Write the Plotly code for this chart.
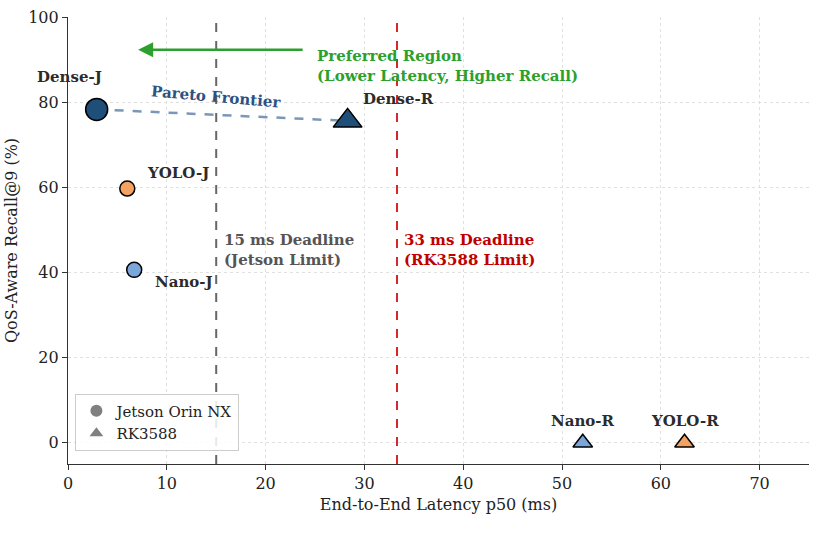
import plotly.graph_objects as go

names = ["Dense-J", "YOLO-J", "Nano-J", "Dense-R", "Nano-R", "YOLO-R"]
latency = [2.9, 6.0, 6.7, 28.3, 52.1, 62.4]
recall = [78.3, 59.7, 40.6, 75.6, 0.0, 0.0]
platform = ["J", "J", "J", "R", "R", "R"]
colors = ["#1f4e79", "#f4a261", "#7aa6da", "#1f4e79", "#7aa6da", "#f4a261"]
sizes = [22, 15, 15, 25, 17, 17]

FONT = "DejaVu Serif"
fig = go.Figure()

# Pareto frontier line
fig.add_trace(go.Scatter(x=[latency[0], latency[3]], y=[recall[0], recall[3]], mode="lines",
                         line=dict(color="rgba(90,125,165,0.8)", width=2.5, dash="dash"),
                         showlegend=False, hoverinfo="skip"))

for i, n in enumerate(names):
    sym = "circle" if platform[i] == "J" else "triangle-up"
    fig.add_trace(go.Scatter(x=[latency[i]], y=[recall[i]], mode="markers",
                             marker=dict(symbol=sym, size=sizes[i], color=colors[i],
                                         line=dict(color="black", width=1.5)),
                             showlegend=False))

# legend proxies
fig.add_trace(go.Scatter(x=[None], y=[None], mode="markers", name="Jetson Orin NX",
                         marker=dict(symbol="circle", size=12, color="gray")))
fig.add_trace(go.Scatter(x=[None], y=[None], mode="markers", name="RK3588",
                         marker=dict(symbol="triangle-up", size=12, color="gray")))

fig.add_shape(type="line", x0=15, x1=15, y0=0, y1=1, yref="paper",
              line=dict(color="#666666", width=2, dash="dash"))
fig.add_shape(type="line", x0=33.3, x1=33.3, y0=0, y1=1, yref="paper",
              line=dict(color="#d62728", width=2, dash="dash"))

label_pos = {
    "Dense-J": (0.2, 85.9, "center"),
    "YOLO-J": (7.8, 63.3, "left"),
    "Nano-J": (8.6, 37.8, "left"),
    "Dense-R": (29.7, 80.7, "left"),
    "Nano-R": (52.1, 5.1, "center"),
    "YOLO-R": (62.4, 5.1, "center"),
}
for n, (x, y, al) in label_pos.items():
    fig.add_annotation(x=x, y=y, text="<b>%s</b>" % n, showarrow=False, xanchor=al,
                       font=dict(family=FONT, size=15, color="#2b2b2b"))

fig.add_annotation(x=7.1, y=92.3, ax=23.9, ay=92.3, axref="x", ayref="y", text="",
                   showarrow=True, arrowhead=2, arrowsize=1.2, arrowwidth=2.5, arrowcolor="#2ca02c")
fig.add_annotation(x=25.0, y=88.6, text="<b>Preferred Region<br>(Lower Latency, Higher Recall)</b>",
                   showarrow=False, xanchor="left", align="left",
                   font=dict(family=FONT, size=15, color="#2ca02c"))
fig.add_annotation(x=15.0, y=81.2, text="<b>Pareto Frontier</b>", showarrow=False, textangle=5,
                   font=dict(family=FONT, size=15, color="#2c5282"))
fig.add_annotation(x=15.6, y=45.2, text="<b>15 ms Deadline<br>(Jetson Limit)</b>", showarrow=False,
                   xanchor="left", align="left", font=dict(family=FONT, size=15, color="#555555"))
fig.add_annotation(x=33.8, y=45.2, text="<b>33 ms Deadline<br>(RK3588 Limit)</b>", showarrow=False,
                   xanchor="left", align="left", font=dict(family=FONT, size=15, color="#c00000"))

axis_common = dict(showgrid=True, gridcolor="#e0e0e0", griddash="dot", gridwidth=1,
                   showline=True, linecolor="#333333", linewidth=1.2, ticks="outside",
                   ticklen=5, tickcolor="#333333", zeroline=False,
                   tickfont=dict(family=FONT, size=16, color="#222"),
                   title_font=dict(family=FONT, size=16, color="#222"))
fig.update_xaxes(range=[0, 75], dtick=10, title_text="End-to-End Latency p50 (ms)",
                 title_standoff=6, **axis_common)
fig.update_yaxes(range=[-5, 100], dtick=20, title_text="QoS-Aware Recall@9 (%)",
                 title_standoff=6, **axis_common)

fig.update_layout(width=817, height=545, margin=dict(l=68, r=8, t=13, b=81),
                  plot_bgcolor="white", paper_bgcolor="white",
                  font=dict(family=FONT),
                  legend=dict(x=0.01, y=0.03, xanchor="left", yanchor="bottom",
                              bgcolor="rgba(255,255,255,0.85)", bordercolor="#cccccc", borderwidth=1,
                              font=dict(family=FONT, size=15, color="#222")))

fig.write_html("out.html")
